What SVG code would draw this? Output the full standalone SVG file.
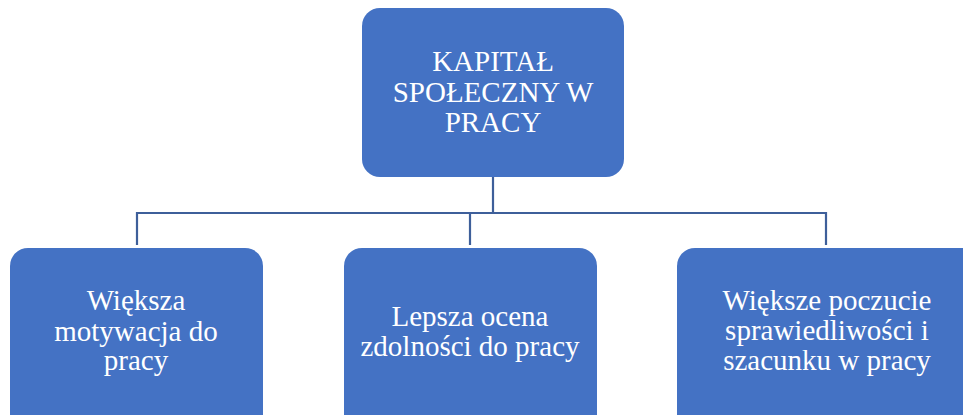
<svg xmlns="http://www.w3.org/2000/svg" width="963" height="415" viewBox="0 0 963 415">
<style>
.box{fill:#4472C4;}
.t{fill:#fff;font-family:"Liberation Serif","Times New Roman",serif;font-size:29px;text-anchor:middle;}
.c{fill:none;stroke:#3E5F9A;stroke-width:2.2;}
</style>
<rect width="963" height="415" fill="#fff"/>
<g id="connectors">
<path class="c" d="M493 177V213M137 213H826M137 212V245M470 212V245M826 212V245"/>
</g>
<g id="root">
<rect class="box" x="362" y="8" width="262" height="169" rx="18"/>
<text class="t" x="493" y="71">KAPITAŁ</text>
<text class="t" x="493" y="102">SPOŁECZNY W</text>
<text class="t" x="493" y="132">PRACY</text>
</g>
<g id="n1">
<rect class="box" x="10" y="248" width="253" height="190" rx="18"/>
<text class="t" x="136" y="310">Większa</text>
<text class="t" x="136" y="341">motywacja do</text>
<text class="t" x="136" y="370">pracy</text>
</g>
<g id="n2">
<rect class="box" x="344" y="248" width="253" height="190" rx="18"/>
<text class="t" x="470" y="326">Lepsza ocena</text>
<text class="t" x="470" y="356">zdolności do pracy</text>
</g>
<g id="n3">
<rect class="box" x="677" y="248" width="320" height="190" rx="18"/>
<text class="t" x="827" y="310">Większe poczucie</text>
<text class="t" x="827" y="340">sprawiedliwości i</text>
<text class="t" x="827" y="370">szacunku w pracy</text>
</g>
</svg>
